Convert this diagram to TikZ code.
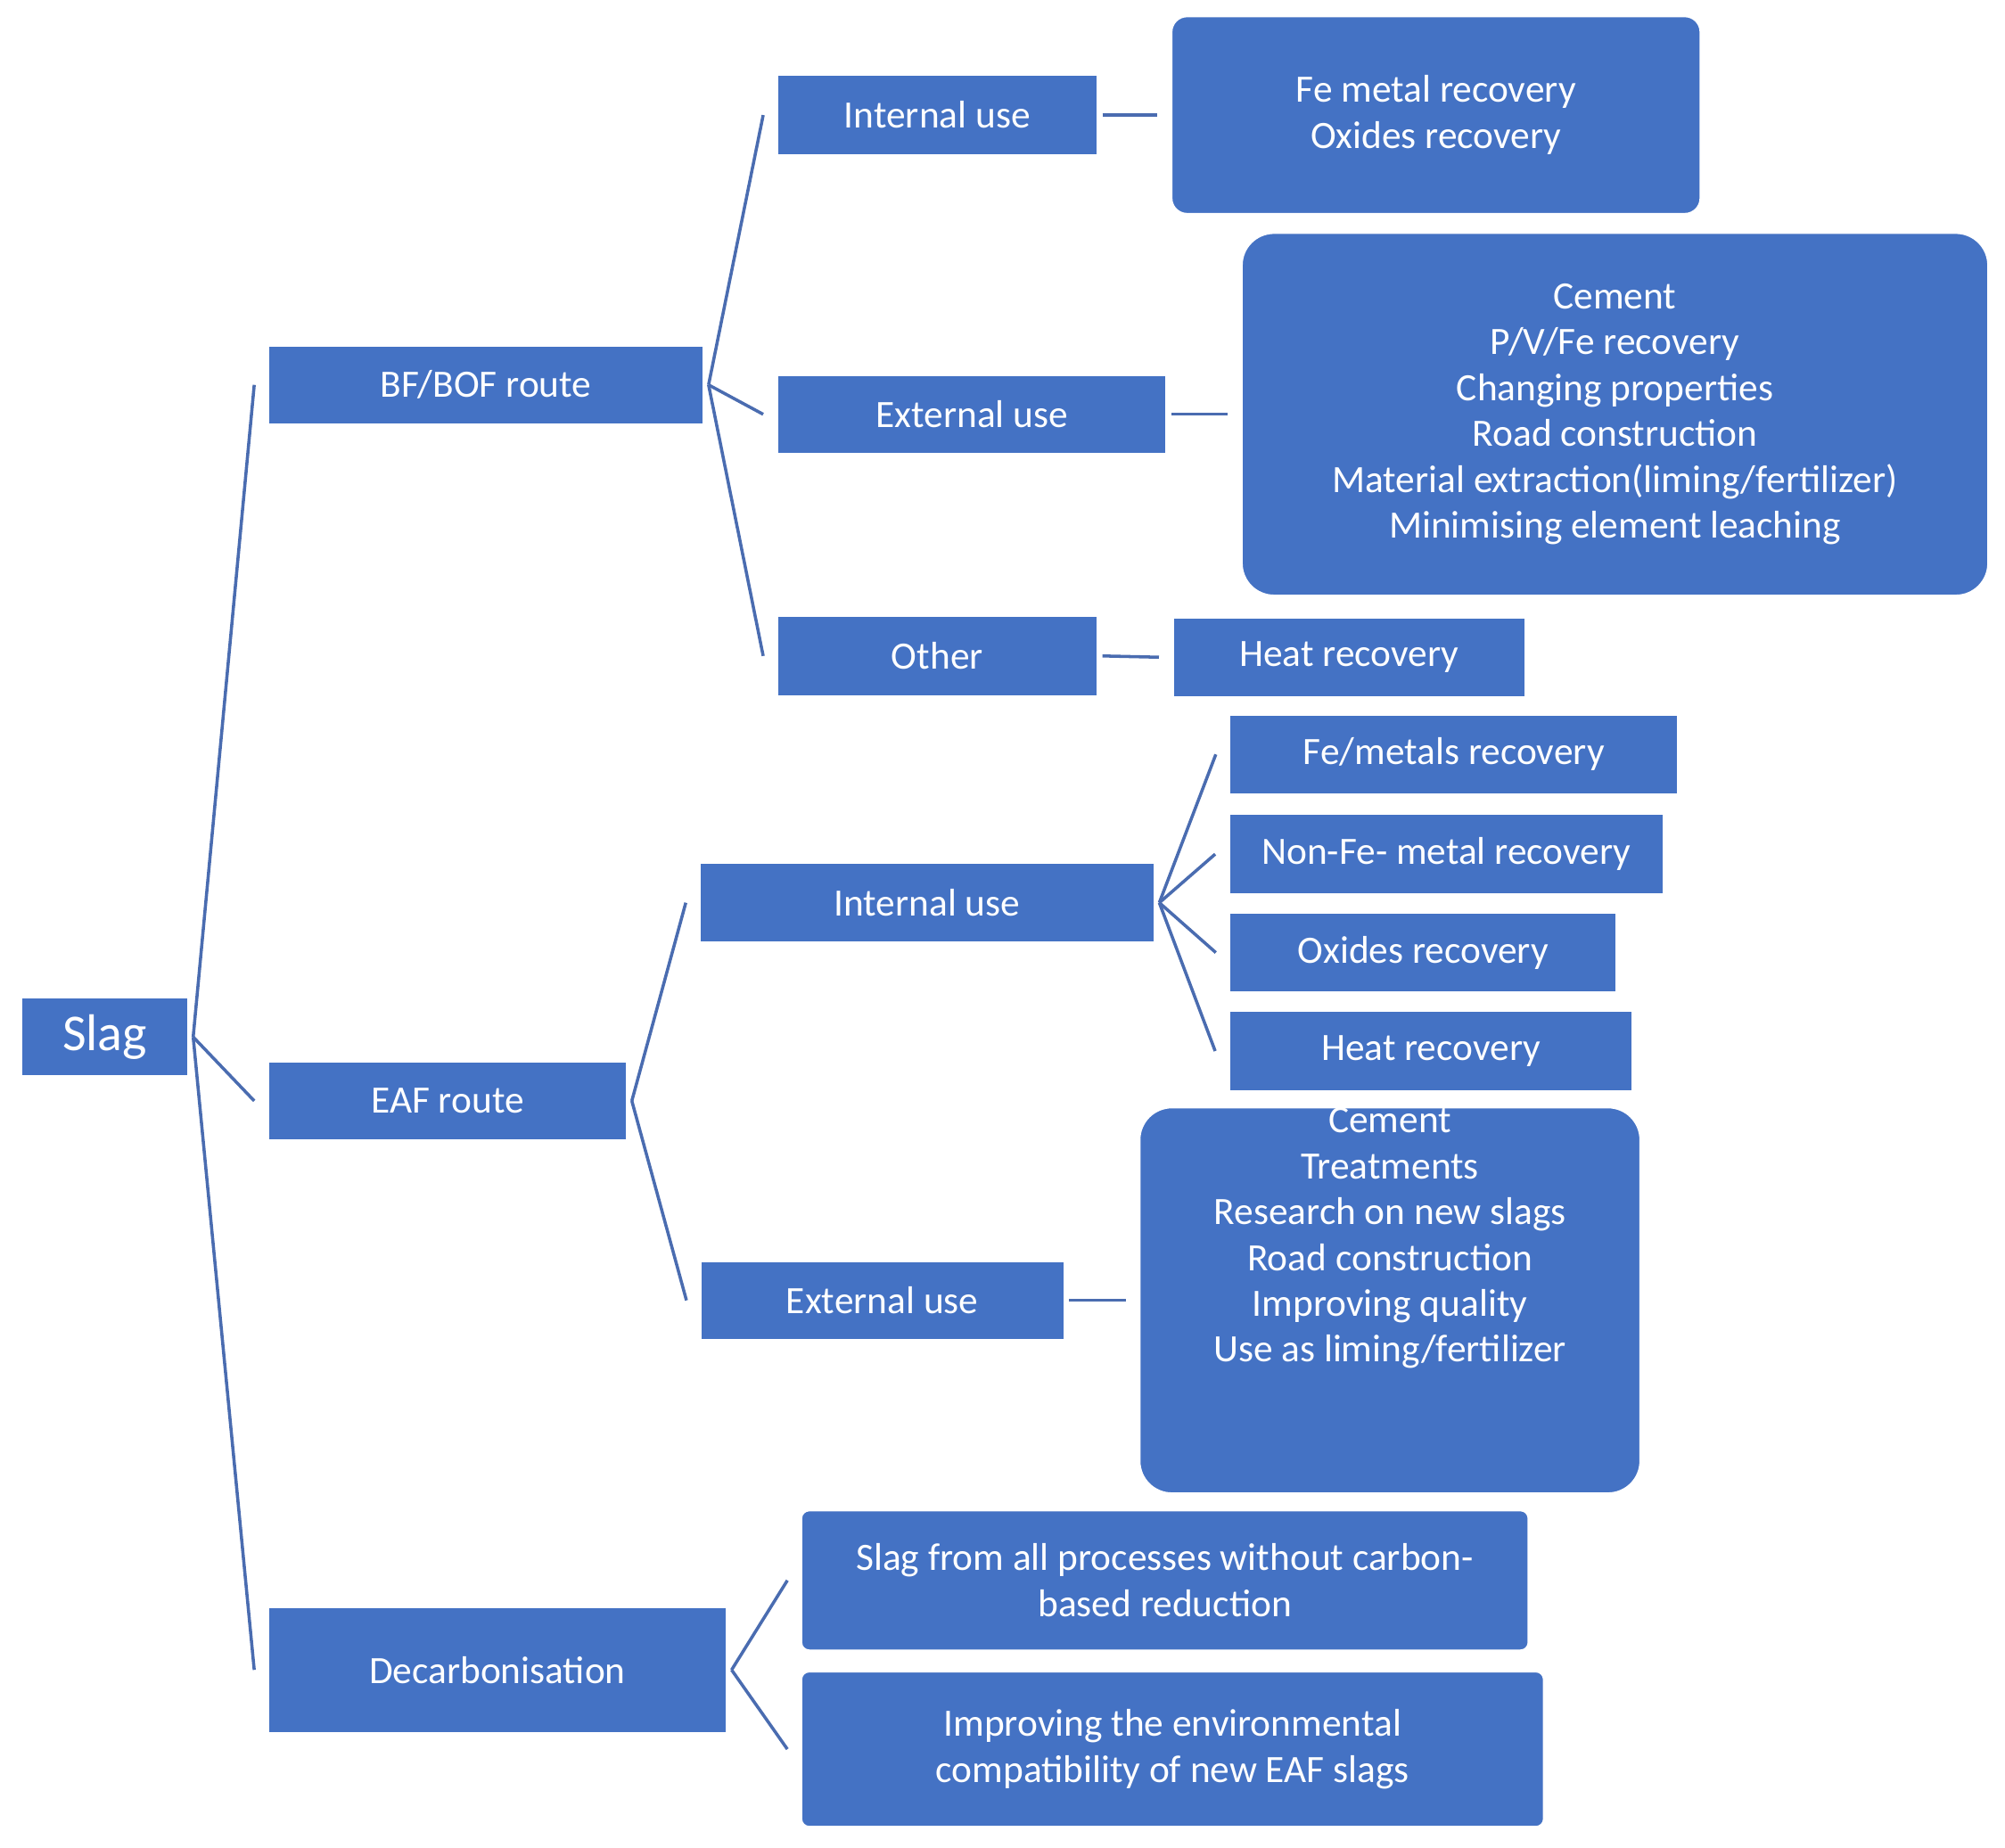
\documentclass[tikz,border=0pt]{standalone}
\usepackage{fontspec}
\setmainfont{Carlito}
\definecolor{bx}{HTML}{4472C4}
\definecolor{ln}{HTML}{4A6CB0}
\begin{document}
\begin{tikzpicture}[x=0.01cm,y=-0.01cm,
 box/.style={fill=bx,draw=white,line width=0.3pt,text=white,inner sep=0pt,align=center,font=\fontsize{8.6}{10.2}\selectfont},
 rb/.style={box,rounded corners=#1},
 con/.style={draw=ln,line width=0.7pt}]
\useasboundingbox (0,0) rectangle (1568,1445);
\node[box,minimum width=1.30cm,minimum height=0.61cm,font=\fontsize{11.5}{13}\selectfont] (slag) at (82,811) {Slag};
\node[box,minimum width=3.40cm,minimum height=0.61cm] (bf) at (380,301) {BF/BOF route};
\node[box,minimum width=2.80cm,minimum height=0.61cm] (eaf) at (350,861) {EAF route};
\node[box,minimum width=3.58cm,minimum height=0.98cm] (dec) at (389,1306) {Decarbonisation};
\node[box,minimum width=2.50cm,minimum height=0.62cm] (int1) at (733,90) {Internal use};
\node[box,minimum width=3.04cm,minimum height=0.61cm] (ext1) at (760,324) {External use};
\node[box,minimum width=2.50cm,minimum height=0.62cm] (oth) at (733,513) {Other};
\node[rb=0.12cm,minimum width=4.13cm,minimum height=1.54cm] (fe) at (1123,90) {Fe metal recovery\\Oxides recovery};
\node[rb=0.25cm,minimum width=5.83cm,minimum height=2.83cm] (cem) at (1263,324) {Cement\\P/V/Fe recovery\\Changing properties\\Road construction\\Material extraction(liming/fertilizer)\\Minimising element leaching};
\node[box,minimum width=2.75cm,minimum height=0.62cm] (heat1) at (1055,514) {Heat recovery};
\node[box,minimum width=3.55cm,minimum height=0.62cm] (int2) at (725,706) {Internal use};
\node[box,minimum width=2.84cm,minimum height=0.61cm] (ext2) at (690,1017) {External use};
\node[box,minimum width=3.50cm,minimum height=0.62cm] (fem) at (1137,590) {Fe/metals recovery};
\node[box,minimum width=3.39cm,minimum height=0.62cm] (nonfe) at (1131,668) {Non-Fe- metal recovery};
\node[box,minimum width=3.02cm,minimum height=0.62cm] (ox) at (1113,745) {Oxides recovery};
\node[box,minimum width=3.15cm,minimum height=0.62cm] (heat2) at (1119,822) {Heat recovery};
\node[rb=0.25cm,minimum width=3.91cm,minimum height=2.96cm] (cem2) at (1087,1017) {Cement\\Treatments\\Research on new slags\\Road construction\\Improving quality\\Use as liming/fertilizer\\[2.2em]};
\node[rb=0.06cm,minimum width=5.68cm,minimum height=1.09cm] (sall) at (911,1236) {Slag from all processes without carbon-\\based reduction};
\node[rb=0.06cm,minimum width=5.80cm,minimum height=1.21cm] (impr) at (917,1368) {Improving the environmental\\compatibility of new EAF slags};
\foreach \a/\b in {slag/bf,slag/eaf,slag/dec,bf/int1,bf/ext1,bf/oth,int1/fe,ext1/cem,oth/heat1,eaf/int2,eaf/ext2,int2/fem,int2/nonfe,int2/ox,int2/heat2,ext2/cem2,dec/sall,dec/impr}
  \draw[con] ([xshift=1pt]\a.east) -- ([xshift=-3pt]\b.west);
\end{tikzpicture}
\end{document}
